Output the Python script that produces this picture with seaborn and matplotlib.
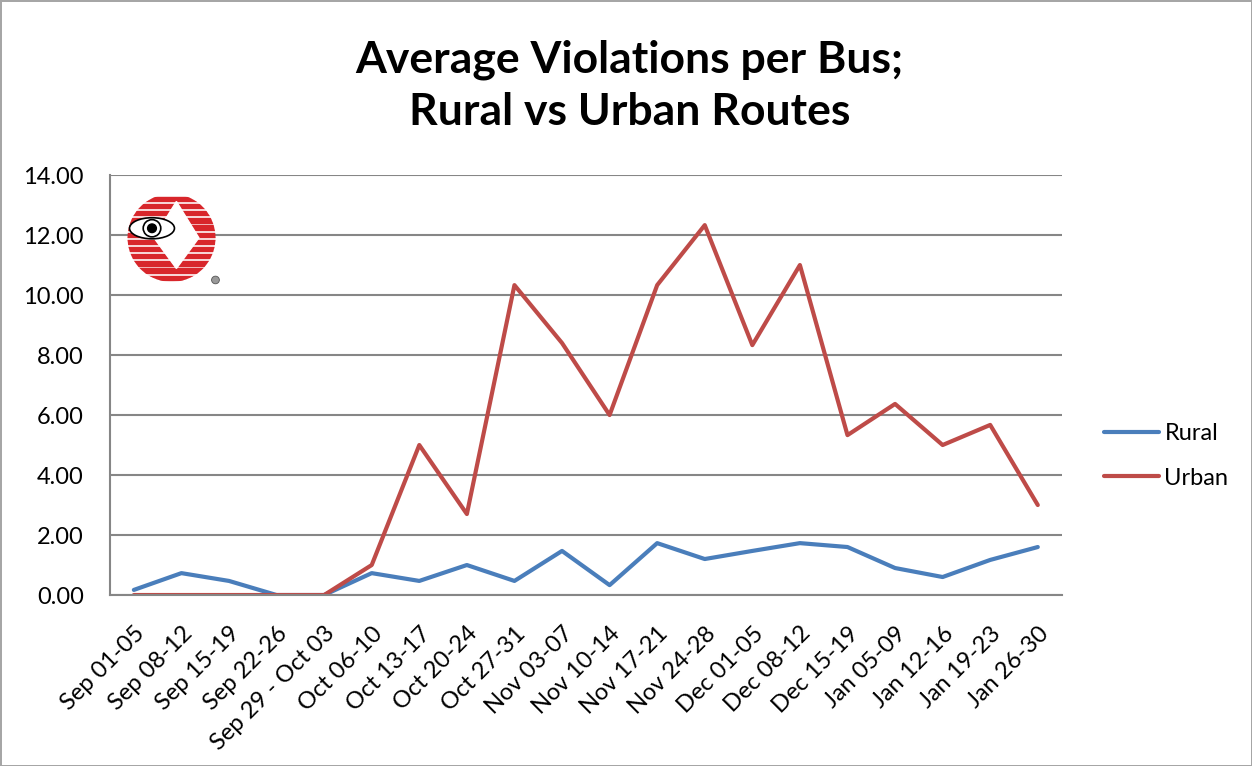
import numpy as np
import pandas as pd
import matplotlib
matplotlib.use("Agg")
import matplotlib.pyplot as plt
from matplotlib.patches import Ellipse, Circle, Polygon, Rectangle
from matplotlib.lines import Line2D
from matplotlib.ticker import FixedLocator, FormatStrFormatter
import seaborn as sns

weeks = ["Sep 01-05", "Sep 08-12", "Sep 15-19", "Sep 22-26", "Sep 29 - Oct 03",
         "Oct 06-10", "Oct 13-17", "Oct 20-24", "Oct 27-31", "Nov 03-07",
         "Nov 10-14", "Nov 17-21", "Nov 24-28", "Dec 01-05", "Dec 08-12",
         "Dec 15-19", "Jan 05-09", "Jan 12-16", "Jan 19-23", "Jan 26-30"]
rural = [0.17, 0.73, 0.47, 0.0, 0.0, 0.73, 0.47, 1.0, 0.47, 1.47,
         0.33, 1.73, 1.2, 1.47, 1.73, 1.6, 0.9, 0.6, 1.17, 1.6]
urban = [0.0, 0.0, 0.0, 0.0, 0.0, 1.0, 5.0, 2.7, 10.33, 8.4,
         6.0, 10.33, 12.33, 8.33, 11.0, 5.33, 6.37, 5.0, 5.67, 3.0]

df = pd.DataFrame({
    "week": weeks * 2,
    "value": rural + urban,
    "route": ["Rural"] * len(weeks) + ["Urban"] * len(weeks),
})

sns.set_style("white")
plt.rcParams["font.family"] = ["Lato", "DejaVu Sans"]
plt.rcParams["text.color"] = "black"
plt.rcParams["xtick.labelcolor"] = "black"
plt.rcParams["ytick.labelcolor"] = "black"

grid_col = "#868686"
blue, red = "#4A7EBB", "#BE4B48"
fs = 17

fig = plt.figure(figsize=(12.52, 7.66), dpi=100)
ax = fig.add_axes([0.0879, 0.2232, 0.76, 0.5483])

sns.lineplot(data=df, x="week", y="value", hue="route",
             palette={"Rural": blue, "Urban": red},
             linewidth=3.0, sort=False, ax=ax, legend=False)

n = len(weeks)
ax.set_xlim(-0.5, n - 0.5)
ax.set_ylim(0, 14)
ax.set_yticks(np.arange(0, 15, 2))
ax.yaxis.set_major_formatter(FormatStrFormatter("%.2f"))
ax.grid(axis="y", color=grid_col, linewidth=1.5)
ax.set_axisbelow(True)
for s in ["top", "right"]:
    ax.spines[s].set_visible(False)
for s in ["left", "bottom"]:
    ax.spines[s].set_color(grid_col)
    ax.spines[s].set_linewidth(1.5)

ax.set_xticks(range(n))
ax.set_xticklabels(weeks, rotation=45, ha="right", rotation_mode="anchor")
ax.xaxis.set_minor_locator(FixedLocator(np.arange(-0.5, n, 1.0)))
ax.tick_params(axis="x", which="major", length=0, pad=20, labelsize=fs)
ax.tick_params(axis="x", which="minor", length=6, width=1.5, color=grid_col, direction="out")
ax.tick_params(axis="y", length=6, width=1.5, color=grid_col, direction="out",
               labelsize=fs, pad=13)
ax.set_xlabel("")
ax.set_ylabel("")

fig.suptitle("Average Violations per Bus;\nRural vs Urban Routes",
             fontsize=32, fontweight="bold", color="black",
             y=0.948, x=0.503, linespacing=1.35)

handles = [Line2D([], [], color=blue, lw=3.0), Line2D([], [], color=red, lw=3.0)]
fig.legend(handles, ["Rural", "Urban"], loc="center left",
           bbox_to_anchor=(0.865, 0.405), frameon=False, fontsize=fs,
           handlelength=2.3, handletextpad=0.25, labelspacing=1.0)

# small logo in top-left of the plot
lax = fig.add_axes([0.098, 0.627, 0.078, 0.125])
lax.set_xlim(0, 1)
lax.set_ylim(0, 1)
lax.axis("off")
clip = Ellipse((0.5, 0.5), 0.9, 0.92, transform=lax.transAxes)
for yy in np.arange(0.06, 0.96, 0.075):
    r = Rectangle((0.0, yy), 1.0, 0.045, color="#D8262B", transform=lax.transAxes)
    lax.add_patch(r)
    r.set_clip_path(clip)
lax.add_patch(Polygon([[0.55, 0.88], [0.78, 0.5], [0.55, 0.18], [0.32, 0.5]],
                      closed=True, color="white"))
lax.add_patch(Ellipse((0.3, 0.6), 0.46, 0.22, facecolor="white", edgecolor="black", lw=1.2))
lax.add_patch(Circle((0.3, 0.6), 0.09, facecolor="white", edgecolor="black", lw=1.2))
lax.add_patch(Circle((0.3, 0.6), 0.045, color="black"))
lax.add_patch(Circle((0.95, 0.06), 0.04, facecolor="#999999", edgecolor="#555555", lw=0.6))

fig.patch.set_edgecolor("#A6A6A6")
fig.patch.set_linewidth(2)

fig.savefig("out.png", dpi=100, edgecolor=fig.get_edgecolor())
